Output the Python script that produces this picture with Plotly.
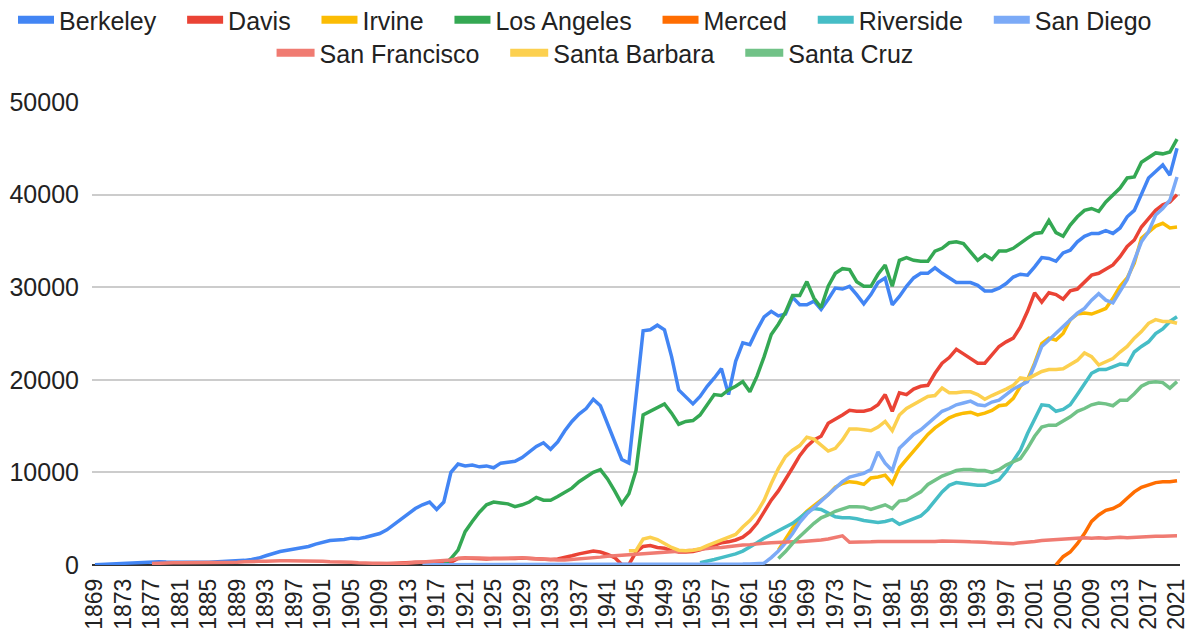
import plotly.graph_objects as go

# Années (catégories de l'axe X)
years = list(range(1869, 2022))

# Effectifs, une liste par campus (début indiqué)
berkeley_start = 1869
berkeley = [40,
            80, 150, 200, 250, 280, 320, 350, 370, 360, 330,
            310, 290, 290, 290, 300, 310, 330, 360, 400, 440,
            500, 600, 750, 1000, 1250, 1450, 1600, 1750, 1850, 2000,
            2250, 2450, 2650, 2700, 2750, 2900, 2850, 3000, 3200, 3400,
            3800, 4400, 5000, 5600, 6100, 6500, 6800, 6000, 6800, 10000,
            10900, 10700, 10800, 10600, 10700, 10500, 11000, 11100, 11200, 11600,
            12200, 12800, 13200, 12500, 13300, 14500, 15500, 16300, 16900, 17900,
            17200, 15200, 13400, 11400, 11000, 18000, 25300, 25400, 25900, 25400,
            22500, 18900, 18200, 17400, 18200, 19300, 20200, 21200, 18400, 22000,
            24000, 23800, 25400, 26800, 27400, 26900, 27100, 28900, 28100, 28100,
            28500, 27600, 28700, 29900, 29800, 30100, 29200, 28200, 29200, 30500,
            31000, 28100, 29000, 30100, 31000, 31500, 31500, 32100, 31500, 31000,
            30500, 30500, 30500, 30200, 29600, 29600, 29900, 30400, 31100, 31400,
            31300, 32200, 33200, 33100, 32800, 33700, 34000, 34900, 35500, 35800,
            35800, 36100, 35800, 36400, 37600, 38300, 40000, 41800, 42500, 43200,
            42100, 45000]

davis_start = 1908
davis = [50, 100,
         150, 200, 250, 300, 300, 300, 250, 200, 200, 300,
         700, 750, 700, 650, 650, 700, 700, 650, 700, 750,
         700, 650, 600, 600, 650, 800, 1000, 1200, 1350, 1500,
         1400, 1150, 800, 50, 50, 1400, 2000, 2100, 1900, 1800,
         1550, 1400, 1400, 1450, 1650, 1900, 2150, 2400, 2500, 2700,
         3000, 3600, 4500, 5800, 7000, 8000, 9200, 10500, 11800, 12800,
         13500, 13900, 15300, 15700, 16200, 16700, 16600, 16600, 16800, 17300,
         18400, 16600, 18600, 18400, 19000, 19300, 19400, 20700, 21800, 22400,
         23300, 22800, 22300, 21800, 21800, 22700, 23600, 24100, 24500, 25700,
         27400, 29400, 28400, 29400, 29200, 28700, 29600, 29800, 30600, 31300,
         31500, 31900, 32400, 33300, 34400, 35100, 36500, 37400, 38300, 38900,
         39200, 40000]

irvine_start = 1965
irvine = [1600, 2800, 4000, 5000, 5800,
          6400, 7000, 7600, 8400, 8800, 9000, 8900, 8700, 9400, 9500,
          9700, 8800, 10500, 11400, 12300, 13200, 14100, 14800, 15300, 15900,
          16200, 16400, 16500, 16200, 16400, 16700, 17200, 17300, 18000, 19300,
          20000, 21800, 23900, 24500, 24300, 25000, 26500, 27100, 27200, 27100,
          27400, 27700, 28800, 30100, 31000, 32600, 35300, 36000, 36600, 36900,
          36400, 36500]

los_angeles_start = 1918
los_angeles = [0, 700,
               1600, 3600, 4700, 5700, 6500, 6800, 6700, 6600, 6300, 6500,
               6800, 7300, 7000, 7000, 7400, 7900, 8300, 9000, 9500, 10000,
               10300, 9300, 8000, 6600, 7700, 10200, 16200, 16600, 16900, 17400,
               16400, 15200, 15500, 15600, 16200, 17300, 18400, 18300, 18900, 19300,
               19800, 18700, 20400, 22500, 24900, 26000, 27300, 29100, 29100, 30600,
               28800, 27800, 30100, 31500, 32000, 31900, 30600, 30100, 30100, 31400,
               32400, 30100, 32900, 33200, 32900, 32800, 32800, 33900, 34200, 34800,
               34900, 34700, 33800, 32900, 33500, 33000, 33900, 33900, 34200, 34800,
               35300, 35800, 35900, 37200, 35900, 35500, 36700, 37600, 38300, 38500,
               38200, 39200, 40000, 40700, 41800, 41900, 43500, 44000, 44500, 44400,
               44600, 46000]

merced_start = 2004
merced = [0, 900, 1400, 2300, 3400, 4700,
          5400, 5900, 6100, 6500, 7200, 7900, 8400, 8700, 8900, 9000,
          9000, 9100]

riverside_start = 1954
riverside = [250, 400, 600, 800, 1000, 1200,
             1500, 1900, 2400, 2900, 3300, 3700, 4000, 4500, 5100, 5700,
             6100, 6000, 5600, 5200, 5100, 5100, 5000, 4800, 4700, 4600,
             4700, 4900, 4400, 4700, 4900, 5300, 6000, 7000, 7900, 8600,
             8900, 8800, 8700, 8600, 8600, 8900, 9200, 10100, 11200, 12400,
             14200, 15800, 17300, 17200, 16600, 16800, 17300, 18400, 19600, 20700,
             21100, 21100, 21400, 21700, 21600, 23000, 23600, 24100, 25000, 25500,
             26300, 26800]

san_diego_start = 1915
san_diego = [20, 20, 20, 20, 20,
             30, 30, 30, 30, 30, 30, 30, 30, 30, 30,
             40, 40, 40, 40, 40, 40, 40, 40, 40, 40,
             40, 40, 40, 40, 40, 40, 40, 40, 40, 50,
             60, 60, 60, 60, 60, 70, 70, 70, 80, 80,
             100, 120, 150, 200, 800, 1500, 2400, 3400, 4600, 5500,
             6200, 6900, 7600, 8400, 9000, 9500, 9700, 9900, 10300, 12200,
             11000, 10200, 12600, 13300, 14100, 14600, 15300, 16000, 16600, 16900,
             17300, 17500, 17700, 17300, 17200, 17600, 17800, 18400, 19000, 19400,
             19800, 21600, 23600, 24300, 25000, 25700, 26500, 27200, 27700, 28600,
             29300, 28600, 28300, 29500, 30800, 32900, 34900, 36000, 37800, 38500,
             39400, 41900]

san_francisco_start = 1877
san_francisco = [150, 200, 250,
                 250, 250, 250, 250, 250, 250, 300, 300, 300, 300,
                 350, 400, 400, 400, 450, 450, 450, 450, 400, 400,
                 400, 400, 350, 350, 300, 300, 250, 200, 200, 200,
                 150, 150, 150, 200, 250, 300, 350, 400, 450, 550,
                 700, 750, 750, 750, 700, 700, 700, 750, 750, 750,
                 700, 650, 600, 550, 550, 550, 600, 650, 700, 800,
                 850, 950, 1000, 1050, 1100, 1150, 1200, 1250, 1300, 1350,
                 1450, 1500, 1550, 1600, 1700, 1800, 1850, 1900, 2000, 2100,
                 2150, 2200, 2300, 2350, 2400, 2450, 2450, 2500, 2500, 2550,
                 2600, 2700, 2800, 2950, 3150, 2450, 2450, 2500, 2500, 2550,
                 2550, 2500, 2500, 2550, 2500, 2500, 2550, 2550, 2600, 2600,
                 2600, 2550, 2500, 2500, 2450, 2400, 2350, 2300, 2300, 2400,
                 2450, 2550, 2650, 2700, 2800, 2850, 2900, 2950, 2950, 2900,
                 2950, 2900, 2950, 3000, 2950, 3000, 3050, 3050, 3100, 3100,
                 3100, 3150]

santa_barbara_start = 1944
santa_barbara = [1550, 1550, 2800, 3000, 2750, 2300,
                 1900, 1600, 1550, 1600, 1750, 2100, 2400, 2650, 2900, 3300,
                 4100, 4800, 5700, 7000, 8800, 10400, 11700, 12400, 12900, 13800,
                 13600, 12900, 12300, 12600, 13500, 14700, 14700, 14600, 14500, 14900,
                 15500, 14500, 16200, 16900, 17300, 17800, 18200, 18300, 19100, 18600,
                 18600, 18700, 18700, 18400, 17900, 18300, 18600, 19000, 19400, 20200,
                 20100, 20500, 20900, 21100, 21100, 21200, 21600, 22100, 22900, 22500,
                 21600, 22000, 22300, 23000, 23600, 24500, 25200, 26100, 26500, 26300,
                 26300, 26100]

santa_cruz_start = 1965
santa_cruz = [700, 1450, 2350, 3100, 3800,
              4500, 5100, 5400, 5800, 6100, 6300, 6300, 6250, 6000, 6300,
              6500, 6100, 6900, 7000, 7400, 7900, 8700, 9200, 9600, 9900,
              10200, 10300, 10300, 10200, 10200, 10000, 10300, 10800, 11200, 11500,
              12600, 13900, 14900, 15100, 15100, 15500, 16000, 16600, 16900, 17300,
              17500, 17400, 17200, 17800, 17800, 18500, 19300, 19700, 19800, 19700,
              19100, 19800]

series = [
    ("Berkeley", berkeley_start, berkeley, "#4285f4"),
    ("Davis", davis_start, davis, "#ea4335"),
    ("Irvine", irvine_start, irvine, "#fbbc04"),
    ("Los Angeles", los_angeles_start, los_angeles, "#34a853"),
    ("Merced", merced_start, merced, "#ff6d01"),
    ("Riverside", riverside_start, riverside, "#46bdc6"),
    ("San Diego", san_diego_start, san_diego, "#7baaf7"),
    ("San Francisco", san_francisco_start, san_francisco, "#f07b72"),
    ("Santa Barbara", santa_barbara_start, santa_barbara, "#fcd04f"),
    ("Santa Cruz", santa_cruz_start, santa_cruz, "#71c287"),
]

fig = go.Figure()

for nom, debut, valeurs, couleur in series:
    x = years[debut - 1869:debut - 1869 + len(valeurs)]
    fig.add_trace(go.Scatter(x=x, y=valeurs, mode="lines", name=nom,
                             line=dict(color=couleur, width=3.5),
                             showlegend=False))

# Traces vides pour la légende (deux lignes)
for i, (nom, debut, valeurs, couleur) in enumerate(series):
    pad = "" if i in (6, 9) else "\u00a0\u00a0\u00a0"
    fig.add_trace(go.Scatter(x=[None], y=[None], mode="lines",
                             name=nom + pad,
                             line=dict(color=couleur, width=8),
                             legend="legend" if i < 7 else "legend2"))

leg = dict(orientation="h", bgcolor="rgba(0,0,0,0)",
           borderwidth=0, font=dict(size=25, color="#222222"),
           yanchor="middle")

# la page a une marge de 8 px : la figure fait 1186x629
fig.update_layout(
    width=1186, height=629,
    margin=dict(l=84, r=14, t=94, b=72, autoexpand=False),
    paper_bgcolor="white", plot_bgcolor="white",
    font=dict(family="Arial, Liberation Sans, sans-serif", color="#222222"),
    legend=dict(leg, itemwidth=36, xref="paper", x=-0.0726, xanchor="left",
                yref="paper", y=1.177),
    legend2=dict(leg, itemwidth=38, xref="container", x=0.495, xanchor="center",
                 yref="container", y=1 - 45 / 629),
    xaxis=dict(range=[1868.58, 2021.42], tickmode="array",
               tickvals=years[::4], ticktext=[str(a) for a in years[::4]],
               tickangle=-90, showgrid=False, zeroline=False, showline=False,
               ticks="", ticklabelstandoff=8, tickfont=dict(size=23)),
    yaxis=dict(range=[0, 50000], tickvals=[0, 10000, 20000, 30000, 40000, 50000],
               tickformat="d", gridcolor="#cccccc", gridwidth=1.5,
               zeroline=True, zerolinecolor="#333333", zerolinewidth=1.5,
               showline=False, ticks="", ticklabelstandoff=12,
               tickfont=dict(size=25)),
)

fig.write_html("out.html")
